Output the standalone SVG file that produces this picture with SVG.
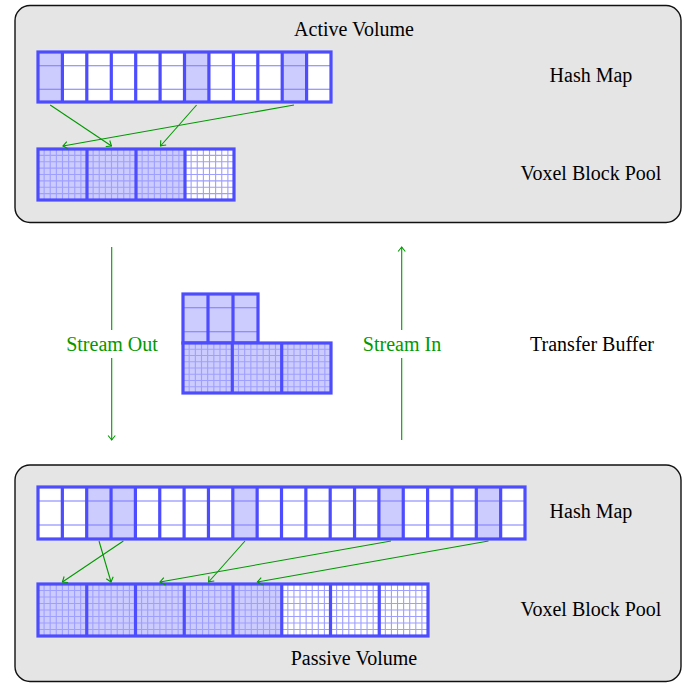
<svg xmlns="http://www.w3.org/2000/svg" width="686" height="683" viewBox="0 0 686 683">
<style>
.box{fill:#e5e5e5;stroke:#111;stroke-width:1.4}
.lbl{font-family:"Liberation Serif","Times New Roman",serif;font-size:20px;fill:#000;text-anchor:middle}
.grn{font-family:"Liberation Serif","Times New Roman",serif;font-size:20px;fill:#009900;text-anchor:middle}
.bg{fill:#fff}
.fl{fill:#ccccff}
.thin{stroke:#7a7aff;stroke-width:1.1;fill:none}
.grid{stroke:#9f9fff;stroke-width:1.1;fill:none}
.sep{stroke:#4d4dff;stroke-width:3.2;fill:none}
.arr{stroke:#009900;stroke-width:1.1;fill:none;marker-end:url(#ah)}
.ln{stroke:#009900;stroke-width:1.1;fill:none}
</style>
<defs>
<marker id="ah" viewBox="-6 -5 7 10" refX="0" refY="0" markerWidth="7" markerHeight="10" markerUnits="userSpaceOnUse" orient="auto">
<path d="M-4.5,-3.6 Q-1.2,-0.9 0,0 Q-1.2,0.9 -4.5,3.6" stroke="#009900" stroke-width="1.1" fill="none"/>
</marker>
</defs>
<rect width="686" height="683" fill="#fff"/>

<g id="active-volume">
<rect class="box" x="15" y="5.5" width="666" height="217" rx="15"/>
<text class="lbl" x="354" y="36">Active Volume</text>
</g>

<g id="passive-volume">
<rect class="box" x="15" y="465" width="666" height="216.5" rx="15"/>
<text class="lbl" x="354" y="665">Passive Volume</text>
</g>

<g id="active-hash-map">
<rect class="bg" x="38" y="52" width="293" height="50"/>
<rect class="fl" x="38" y="52" width="24.4" height="50"/>
<rect class="fl" x="184.5" y="52" width="24.4" height="50"/>
<rect class="fl" x="282.2" y="52" width="24.4" height="50"/>
<path class="thin" d="M38 65.7H331M38 89.3H331"/>
<path class="sep" d="M62.4 52V102M86.8 52V102M111.3 52V102M135.7 52V102M160.1 52V102M184.5 52V102M208.9 52V102M233.4 52V102M257.8 52V102M282.2 52V102M306.6 52V102"/>
<rect class="sep" x="38" y="52" width="293" height="50"/>
<text class="lbl" x="591" y="82">Hash Map</text>
</g>

<g id="active-voxel-block-pool">
<rect class="bg" x="38" y="149" width="196" height="51"/>
<rect class="fl" x="38" y="149" width="147" height="51"/>
<path class="grid" d="M44.125 149v51m6.125-51v51m6.125-51v51m6.125-51v51m6.125-51v51m6.125-51v51m6.125-51v51M93.125 149v51m6.125-51v51m6.125-51v51m6.125-51v51m6.125-51v51m6.125-51v51m6.125-51v51M142.125 149v51m6.125-51v51m6.125-51v51m6.125-51v51m6.125-51v51m6.125-51v51m6.125-51v51M191.125 149v51m6.125-51v51m6.125-51v51m6.125-51v51m6.125-51v51m6.125-51v51m6.125-51v51M38 155.375h196m-196 6.375h196m-196 6.375h196m-196 6.375h196m-196 6.375h196m-196 6.375h196m-196 6.375h196"/>
<path class="sep" d="M87 149V200M136 149V200M185 149V200"/>
<rect class="sep" x="38" y="149" width="196" height="51"/>
<text class="lbl" x="591" y="180">Voxel Block Pool</text>
</g>

<g id="transfer-buffer">
<rect class="fl" x="183" y="294" width="75" height="49"/>
<path class="thin" d="M183 307.7H258M183 331.7H258"/>
<path class="sep" d="M208 294V343M233 294V343"/>
<rect class="sep" x="183" y="294" width="75" height="49"/>
<rect class="fl" x="183" y="343" width="148" height="50"/>
<path class="grid" d="M189.167 343v50m6.167-50v50m6.167-50v50m6.167-50v50m6.167-50v50m6.167-50v50m6.167-50v50M238.5 343v50m6.167-50v50m6.167-50v50m6.167-50v50m6.167-50v50m6.167-50v50m6.167-50v50M287.833 343v50m6.167-50v50m6.167-50v50m6.167-50v50m6.167-50v50m6.167-50v50m6.167-50v50M183 349.25h148m-148 6.25h148m-148 6.25h148m-148 6.25h148m-148 6.25h148m-148 6.25h148m-148 6.25h148"/>
<path class="sep" d="M232.3 343V393M281.7 343V393"/>
<rect class="sep" x="183" y="343" width="148" height="50"/>
<text class="lbl" x="592" y="351">Transfer Buffer</text>
</g>

<g id="passive-hash-map">
<rect class="bg" x="38" y="487" width="487" height="52"/>
<rect class="fl" x="86.7" y="487" width="48.7" height="52"/>
<rect class="fl" x="232.8" y="487" width="24.35" height="52"/>
<rect class="fl" x="378.9" y="487" width="24.35" height="52"/>
<rect class="fl" x="476.3" y="487" width="24.35" height="52"/>
<path class="thin" d="M38 501H525M38 525H525"/>
<path class="sep" d="M62.35 487V539M86.7 487V539M111.05 487V539M135.4 487V539M159.75 487V539M184.1 487V539M208.45 487V539M232.8 487V539M257.15 487V539M281.5 487V539M305.85 487V539M330.2 487V539M354.55 487V539M378.9 487V539M403.25 487V539M427.6 487V539M451.95 487V539M476.3 487V539M500.65 487V539"/>
<rect class="sep" x="38" y="487" width="487" height="52"/>
<text class="lbl" x="591" y="518">Hash Map</text>
</g>

<g id="passive-voxel-block-pool">
<rect class="bg" x="38" y="584" width="390" height="52"/>
<rect class="fl" x="38" y="584" width="243.75" height="52"/>
<path class="grid" d="M44.094 584v52m6.094-52v52m6.094-52v52m6.094-52v52m6.094-52v52m6.094-52v52m6.094-52v52M92.844 584v52m6.094-52v52m6.094-52v52m6.094-52v52m6.094-52v52m6.094-52v52m6.094-52v52M141.594 584v52m6.094-52v52m6.094-52v52m6.094-52v52m6.094-52v52m6.094-52v52m6.094-52v52M190.344 584v52m6.094-52v52m6.094-52v52m6.094-52v52m6.094-52v52m6.094-52v52m6.094-52v52M239.094 584v52m6.094-52v52m6.094-52v52m6.094-52v52m6.094-52v52m6.094-52v52m6.094-52v52M287.844 584v52m6.094-52v52m6.094-52v52m6.094-52v52m6.094-52v52m6.094-52v52m6.094-52v52M336.594 584v52m6.094-52v52m6.094-52v52m6.094-52v52m6.094-52v52m6.094-52v52m6.094-52v52M385.344 584v52m6.094-52v52m6.094-52v52m6.094-52v52m6.094-52v52m6.094-52v52m6.094-52v52M38 590.5h390m-390 6.5h390m-390 6.5h390m-390 6.5h390m-390 6.5h390m-390 6.5h390m-390 6.5h390"/>
<path class="sep" d="M86.75 584V636M135.5 584V636M184.25 584V636M233 584V636M281.75 584V636M330.5 584V636M379.25 584V636"/>
<rect class="sep" x="38" y="584" width="390" height="52"/>
<text class="lbl" x="591" y="616">Voxel Block Pool</text>
</g>

<g id="connectors">
<path class="arr" d="M50.2 105L111.5 146"/>
<path class="arr" d="M196.6 105L160.5 146"/>
<path class="arr" d="M294 105L63 146"/>
<path class="arr" d="M99 541L111 582"/>
<path class="arr" d="M123.4 541L62.4 582"/>
<path class="arr" d="M245 541L208.6 582"/>
<path class="arr" d="M391 541L160 582"/>
<path class="arr" d="M488.5 541L257.4 582"/>
<path class="ln" d="M111.7 247V330"/>
<path class="arr" d="M111.7 358V440"/>
<path class="ln" d="M401.7 440V358"/>
<path class="arr" d="M401.7 330V247"/>
<text class="grn" x="112" y="351">Stream Out</text>
<text class="grn" x="402" y="351">Stream In</text>
</g>
</svg>
